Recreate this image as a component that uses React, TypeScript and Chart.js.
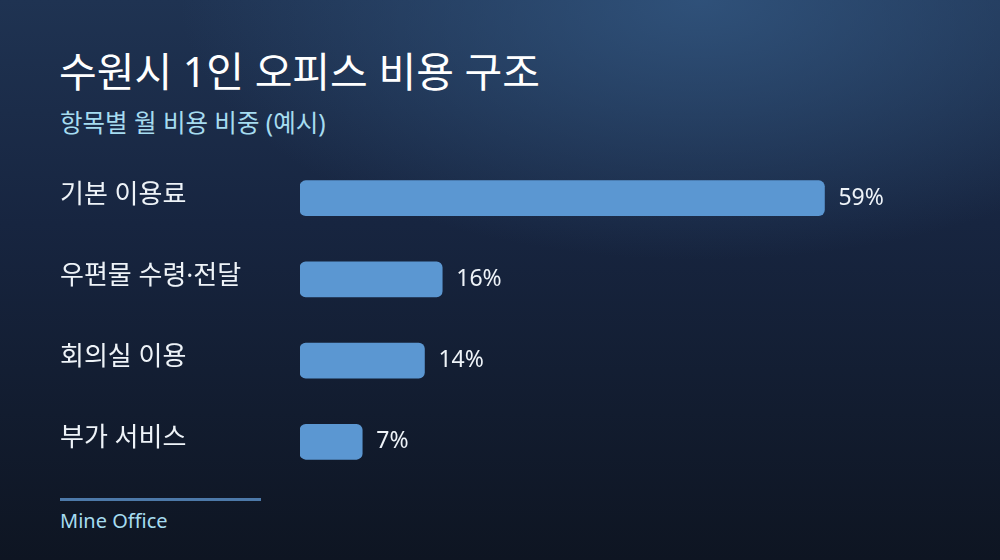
import React, { useEffect, useRef } from "react";
import { Chart, registerables } from "chart.js";

Chart.register(...registerables);

// data
const categories = ["기본 이용료", "우편물 수령·전달", "회의실 이용", "부가 서비스"];
const shares = [59, 16, 14, 7];
const valueLabels = ["59%", "16%", "14%", "7%"];

const FONT = '"Noto Sans", "Noto Sans CJK KR", sans-serif';

// draws the % text just right of each bar
const valueLabelPlugin = {
  id: "valueLabels",
  afterDatasetsDraw(chart: any) {
    const { ctx } = chart;
    const meta = chart.getDatasetMeta(0);
    ctx.save();
    ctx.font = `400 23px ${FONT}`;
    ctx.fillStyle = "#eef3f8";
    ctx.textAlign = "left";
    ctx.textBaseline = "middle";
    meta.data.forEach((bar: any, i: number) => {
      ctx.fillText(valueLabels[i], bar.x + 14, bar.y);
    });
    ctx.restore();
  },
};

const App: React.FC = () => {
  const chartRef = useRef<HTMLCanvasElement>(null);

  useEffect(() => {
    if (!chartRef.current) return;
    const ctx = chartRef.current.getContext("2d");
    if (!ctx) return;

    const myChart = new Chart(ctx, {
      type: "bar",
      data: {
        labels: categories,
        datasets: [
          {
            data: shares,
            backgroundColor: "#5b97d2",
            borderRadius: 6,
            borderSkipped: false,
            barThickness: 35,
          },
        ],
      },
      options: {
        indexAxis: "y",
        animation: false,
        responsive: false,
        maintainAspectRatio: false,
        layout: { padding: 0 },
        plugins: {
          legend: { display: false },
          tooltip: { enabled: false },
        },
        scales: {
          x: {
            display: false,
            min: 0,
            max: 72,
          },
          y: {
            grid: { display: false },
            border: { display: false },
            afterFit: (scale: any) => {
              scale.width = 240;
            },
            ticks: {
              crossAlign: "far",
              padding: 0,
              labelOffset: -3,
              color: "#eef3f8",
              font: { family: FONT, size: 26, weight: "400" },
            },
          },
        },
      },
      plugins: [valueLabelPlugin],
    });

    return () => {
      myChart.destroy();
    };
  }, []);

  return (
    <div
      style={{
        position: "fixed",
        left: 0,
        top: 0,
        width: 1000,
        height: 560,
        overflow: "hidden",
        fontFamily: FONT,
        background:
          "radial-gradient(ellipse 520px 260px at 700px 0px, rgba(50,86,128,0.85) 0%, rgba(50,86,128,0) 100%), linear-gradient(180deg, #1f3352 0%, #172540 40%, #0e1522 100%)",
      }}
    >
      <div
        style={{
          position: "absolute",
          left: 59,
          top: 45,
          fontSize: 41,
          fontWeight: 400,
          color: "#ffffff",
          lineHeight: 1.3,
          whiteSpace: "nowrap",
        }}
      >
        수원시 1인 오피스 비용 구조
      </div>
      <div
        style={{
          position: "absolute",
          left: 60,
          top: 107,
          fontSize: 24.5,
          color: "#a6dcf0",
          lineHeight: 1.3,
          whiteSpace: "nowrap",
        }}
      >
        항목별 월 비용 비중 (예시)
      </div>
      <canvas
        ref={chartRef}
        width={880}
        height={356}
        style={{ position: "absolute", left: 60, top: 142, width: 880, height: 356 }}
      />
      <div
        style={{
          position: "absolute",
          left: 60,
          top: 498,
          width: 201,
          height: 3,
          background: "#4d79a9",
        }}
      />
      <div
        style={{
          position: "absolute",
          left: 60,
          top: 508,
          fontSize: 20,
          color: "#a6dcf0",
          lineHeight: 1.3,
          whiteSpace: "nowrap",
        }}
      >
        Mine Office
      </div>
    </div>
  );
};

export default App;
